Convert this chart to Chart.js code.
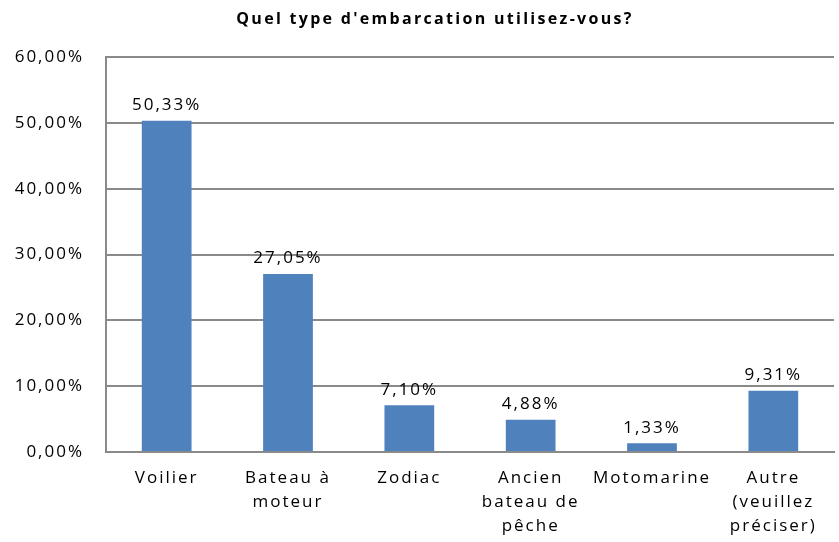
<!DOCTYPE html>
<html>
<head>
<meta charset="utf-8">
<script src="https://cdn.jsdelivr.net/npm/chart.js@4"></script>
<style>
  html, body { margin: 0; padding: 0; background: #fff; }
  #wrap { width: 839px; height: 542px; }
</style>
</head>
<body>
<div id="wrap"><canvas id="boatChart" width="839" height="542"></canvas></div>
<script>
const categories = [
    ['Voilier'],
    ['Bateau à', 'moteur'],
    ['Zodiac'],
    ['Ancien', 'bateau de', 'pêche'],
    ['Motomarine'],
    ['Autre', '(veuillez', 'préciser)']
];
const shares = [50.33, 27.05, 7.10, 4.88, 1.33, 9.31];
const yTicks = [0, 10, 20, 30, 40, 50, 60];
const chartTitle = "Quel type d'embarcation utilisez-vous?";

const LS = '2px';

function pct(v) {
    return v.toFixed(2).replace('.', ',') + '%';
}

// Excel-like wide letter spacing on every text of the chart
const spacing = {
    id: 'spacing',
    beforeUpdate(chart) { chart.ctx.letterSpacing = LS; },
    beforeLayout(chart) { chart.ctx.letterSpacing = LS; },
    beforeDraw(chart) { chart.ctx.letterSpacing = LS; }
};

const barLabels = {
    id: 'barLabels',
    afterDatasetsDraw(chart) {
        const ctx = chart.ctx;
        const meta = chart.getDatasetMeta(0);
        ctx.save();
        ctx.letterSpacing = LS;
        ctx.font = '17px "Open Sans"';
        ctx.fillStyle = '#000';
        ctx.textAlign = 'center';
        ctx.textBaseline = 'bottom';
        meta.data.forEach(function (bar, i) {
            ctx.fillText(pct(shares[i]), bar.x, bar.y - 7);
        });
        ctx.restore();
    }
};

// title drawn by hand so it can sit a bit right of centre like the original
const titleText = {
    id: 'titleText',
    afterDraw(chart) {
        const ctx = chart.ctx;
        ctx.save();
        ctx.letterSpacing = '2.3px';
        ctx.font = 'bold 16px "Open Sans"';
        ctx.fillStyle = '#000';
        ctx.textAlign = 'center';
        ctx.textBaseline = 'middle';
        ctx.fillText(chartTitle, 435, 19);
        ctx.restore();
    }
};

document.addEventListener('DOMContentLoaded', function () {
    const ctx = document.getElementById('boatChart').getContext('2d');
    const config = {
        type: 'bar',
        data: {
            labels: categories,
            datasets: [{
                data: shares,
                backgroundColor: '#4F81BD',
                borderWidth: 0,
                barPercentage: 0.41,
                categoryPercentage: 1
            }]
        },
        options: {
            responsive: false,
            animation: false,
            layout: {
                padding: { left: 0, right: 5, top: 57, bottom: 0 }
            },
            plugins: {
                legend: { display: false },
                tooltip: { enabled: false },
                title: { display: false }
            },
            scales: {
                y: {
                    min: 0,
                    max: 60,
                    afterFit: function (scale) { scale.width = 106; },
                    afterBuildTicks: function (scale) {
                        scale.ticks = yTicks.map(function (v) { return { value: v }; });
                    },
                    ticks: {
                        color: '#000',
                        font: { family: '"Open Sans"', size: 17 },
                        padding: 22,
                        callback: function (v) { return pct(v); }
                    },
                    grid: {
                        color: '#8a8a8a',
                        lineWidth: 2,
                        drawTicks: false
                    },
                    border: { color: '#8a8a8a', width: 2 }
                },
                x: {
                    afterFit: function (scale) { scale.height = 90; },
                    ticks: {
                        color: '#000',
                        font: { family: '"Open Sans"', size: 17, lineHeight: 1.42 },
                        padding: 14,
                        maxRotation: 0,
                        autoSkip: false
                    },
                    grid: { display: false, drawTicks: false },
                    border: { color: '#8a8a8a', width: 2 }
                }
            }
        },
        plugins: [spacing, barLabels, titleText]
    };
    new Chart(ctx, config);
});
</script>
</body>
</html>
